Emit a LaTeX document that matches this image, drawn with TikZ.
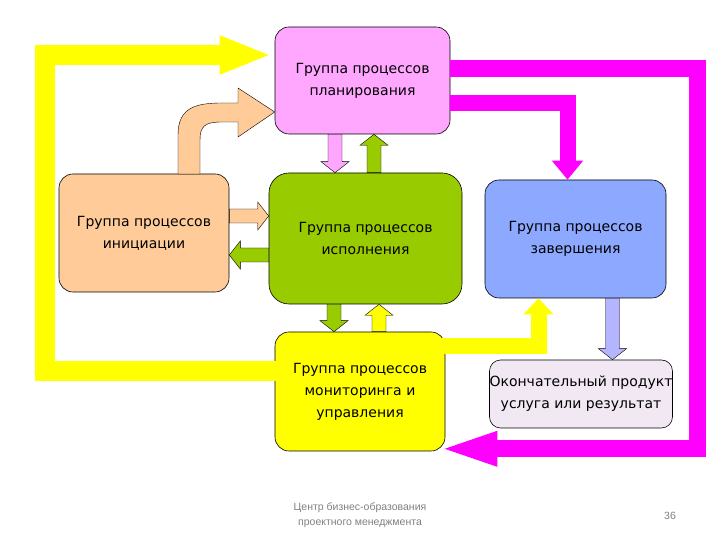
\documentclass[tikz,border=0pt]{standalone}
\usepackage{fontspec}
\setmainfont{DejaVu Sans}
\newfontfamily\footfont{Liberation Sans}
\usetikzlibrary{arrows.meta,calc}

\definecolor{planfill}{RGB}{255,166,255}
\definecolor{initfill}{RGB}{255,204,153}
\definecolor{execfill}{RGB}{153,204,0}
\definecolor{donefill}{RGB}{140,168,255}
\definecolor{monfill}{RGB}{255,255,0}
\definecolor{prodfill}{RGB}{242,232,244}
\definecolor{loopmagenta}{RGB}{255,0,255}
\definecolor{prodarrow}{RGB}{180,180,255}
\definecolor{footgray}{RGB}{128,128,128}

% outlined block arrow from #2 to #3
\newcommand{\blockarrow}[3][]{%
  \coordinate (ba-s) at (#2);
  \coordinate (ba-e) at (#3);
  \coordinate (ba-h) at ($(ba-e)!11pt!(ba-s)$);
  \draw[#1] ($(ba-s)!7pt!90:(ba-e)$) -- ($(ba-h)!7pt!-90:(ba-s)$)
    -- ($(ba-h)!14pt!-90:(ba-s)$) -- (ba-e)
    -- ($(ba-h)!14pt!90:(ba-s)$) -- ($(ba-h)!7pt!90:(ba-s)$)
    -- ($(ba-s)!7pt!-90:(ba-e)$) -- cycle;
}

\begin{document}
\begin{tikzpicture}[x=1pt,y=1pt,semithick]
  \tikzstyle{group}=[draw,rounded corners=14pt,inner sep=0pt,align=center,
                     font=\fontsize{14}{22}\selectfont]
  \tikzstyle{outlined}=[draw=black,thin]
  \tikzstyle{bigbar}=[line join=miter]
  \tikzstyle{footer}=[font=\footfont\fontsize{10.5}{15}\selectfont,
                      text=footgray,align=center]

  \useasboundingbox (0,0) rectangle (720,540);

  \node[group,fill=planfill,minimum width=175pt,minimum height=107pt]
        (plan) at (362.5,459.5) {Группа процессов\\планирования};
  \node[group,fill=initfill,minimum width=170pt,minimum height=118pt]
        (init) at (144,307) {Группа процессов\\инициации};
  \node[group,fill=execfill,minimum width=193pt,minimum height=131pt,
        rounded corners=20pt]
        (exec) at (365.5,301.5) {Группа процессов\\исполнения};
  \node[group,fill=donefill,minimum width=181pt,minimum height=118pt]
        (done) at (575.5,301) {Группа процессов\\завершения};
  \node[group,fill=monfill,minimum width=170pt,minimum height=119pt]
        (mon) at (360,148.5) {Группа процессов\\мониторинга и\\управления};
  \node[group,fill=prodfill,minimum width=182pt,minimum height=68pt,
        rounded corners=11pt]
        (prod) at (581,146) {Окончательный продукт\\услуга или результат};

  \coordinate (pinkturn) at (697.5,300);
  \coordinate (yellowturn) at (45,300);

  % big loops
  \draw[bigbar,loopmagenta,line width=17pt,
        -{Triangle[length=61pt 0 0,width=30pt 0 0]}]
    ([yshift=12pt]plan.east) -| (pinkturn) |- ([shift={(-9pt,2.5pt)}]mon.south east);
  \draw[bigbar,loopmagenta,line width=16pt,
        -{Triangle[length=19pt 0 0,width=30pt 0 0]}]
    ([yshift=-22.5pt]plan.east) -| ([xshift=-8pt]done.north);
  \draw[bigbar,monfill,line width=20pt,
        -{Triangle[length=52pt 0 0,width=35pt 0 0]}]
    ([shift={(5pt,20pt)}]mon.west) -| (yellowturn) |- ([shift={(-3pt,25.5pt)}]plan.west);
  \draw[bigbar,monfill,line width=16pt,
        -{Triangle[length=16pt 0 0,width=29pt 0 0]}]
    ([shift={(-5pt,45pt)}]mon.east) -| ([xshift=-37pt]done.south);

  % init -> plan
  \draw[outlined,fill=initfill] (178,366) -- (178,405)
    .. controls (178,432) and (195,437) .. (222,437) -- (238,437)
    -- (238,452) -- (plan.west |- 0,428) -- (238,403) -- (238,418)
    -- (222,418) .. controls (205,418) and (200,414) .. (200,400)
    -- (200,366) -- cycle;

  \blockarrow[outlined,fill=planfill]{[xshift=-27.5pt]plan.south}{ba-s |- exec.north}
  \blockarrow[outlined,fill=execfill]{[xshift=8.5pt]exec.north}{ba-s |- plan.south}
  \blockarrow[outlined,fill=initfill]{[yshift=17pt]init.east}{ba-s -| exec.west}
  \blockarrow[outlined,fill=execfill]{[yshift=-16.5pt]exec.west}{ba-s -| init.east}
  \blockarrow[outlined,fill=execfill]{[xshift=-31.5pt]exec.south}{ba-s |- mon.north}
  \blockarrow[outlined,fill=monfill]{[xshift=19pt]mon.north}{ba-s |- exec.south}
  \blockarrow[outlined,fill=prodarrow]{[xshift=37pt]done.south}{ba-s |- prod.north}

  \node[footer] (footnote) at (360,24.5) {Центр бизнес-образования\\проектного менеджмента};
  \node[footer] (pagenum) at (670,24) {36};
\end{tikzpicture}
\end{document}
